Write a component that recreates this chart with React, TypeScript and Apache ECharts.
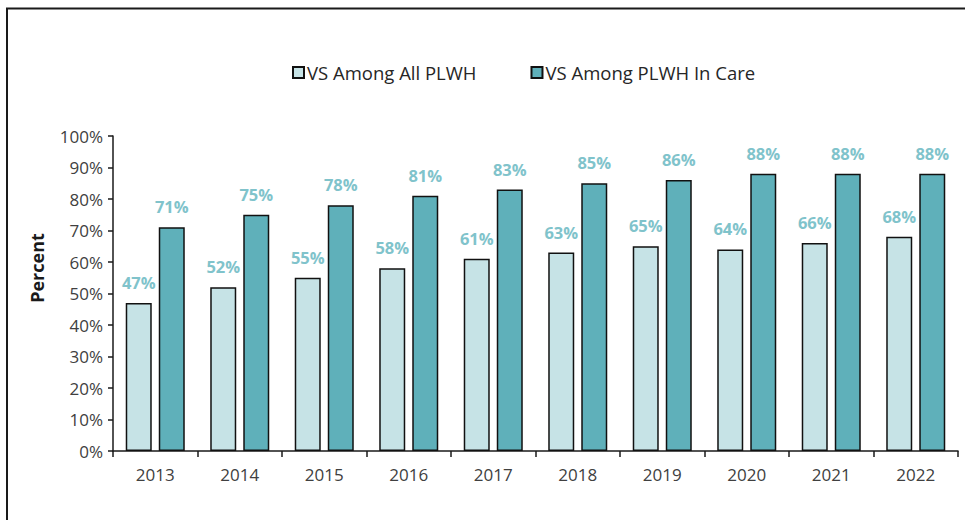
import React, { useEffect, useRef } from "react";
import * as echarts from "echarts";

const years = ["2013", "2014", "2015", "2016", "2017", "2018", "2019", "2020", "2021", "2022"];
const vsAll = [47, 52, 55, 58, 61, 63, 65, 64, 66, 68];
const vsCare = [71, 75, 78, 81, 83, 85, 86, 88, 88, 88];
const seriesNames = ["VS Among All PLWH", "VS Among PLWH In Care"];
const yAxisTitle = "Percent";

const FONT = "'Open Sans', 'Noto Sans', sans-serif";
const LABEL_COLOR = "#80c3cb";

export default function App() {
  const ref = useRef<HTMLDivElement>(null);
  useEffect(() => {
    if (!ref.current) return;
    const chart = echarts.init(ref.current, undefined, { renderer: "svg" });
    const label = {
      show: true,
      position: "top",
      distance: 12,
      formatter: "{c}%",
      color: LABEL_COLOR,
      fontFamily: FONT,
      fontWeight: "bold",
      fontSize: 16.5,
    };
    chart.setOption({
      animation: false,
      backgroundColor: "#ffffff",
      textStyle: { fontFamily: FONT },
      graphic: [
        {
          type: "rect",
          shape: { x: 7, y: 8.5, width: 1000, height: 600 },
          style: { fill: "none", stroke: "#1a1a1a", lineWidth: 2 },
          silent: true,
        },
        {
          type: "text",
          x: 37,
          y: 268,
          rotation: Math.PI / 2,
          style: {
            text: yAxisTitle,
            fontFamily: FONT,
            fontSize: 18,
            fontWeight: "bold",
            fill: "#1a1a1a",
            align: "center",
            verticalAlign: "middle",
          },
          silent: true,
        },
      ],
      legend: {
        top: 58,
        left: 287,
        itemWidth: 11,
        itemHeight: 11,
        itemGap: 54,
        icon: "rect",
        textStyle: { fontFamily: FONT, fontSize: 18.5, color: "#262626", padding: [0, 0, 0, -2] },
        data: seriesNames,
      },
      grid: { left: 113, right: 7, top: 136, bottom: 69 },
      xAxis: {
        type: "category",
        data: years,
        axisLine: { lineStyle: { color: "#1a1a1a", width: 1.5 } },
        axisTick: { show: true, length: 6, lineStyle: { color: "#1a1a1a", width: 1.5 } },
        axisLabel: { color: "#404040", fontFamily: FONT, fontSize: 17, margin: 15 },
      },
      yAxis: {
        type: "value",
        min: 0,
        max: 100,
        interval: 10,
        axisLine: { show: true, lineStyle: { color: "#1a1a1a", width: 1.5 } },
        axisTick: { show: true, length: 5, lineStyle: { color: "#1a1a1a", width: 1.5 } },
        splitLine: { show: false },
        axisLabel: { formatter: "{value}%", color: "#404040", fontFamily: FONT, fontSize: 17, margin: 10 },
      },
      series: [
        {
          name: seriesNames[0],
          type: "bar",
          data: vsAll,
          barWidth: 26,
          barGap: "27%",
          itemStyle: { color: "#c6e3e6", borderColor: "#111", borderWidth: 1.5 },
          label,
        },
        {
          name: seriesNames[1],
          type: "bar",
          data: vsCare,
          barWidth: 26,
          itemStyle: { color: "#5fb0ba", borderColor: "#111", borderWidth: 1.5 },
          label,
        },
      ],
    });
    return () => chart.dispose();
  }, []);
  return <div ref={ref} style={{ width: 965, height: 520, position: "fixed", left: 0, top: 0 }} />;
}
